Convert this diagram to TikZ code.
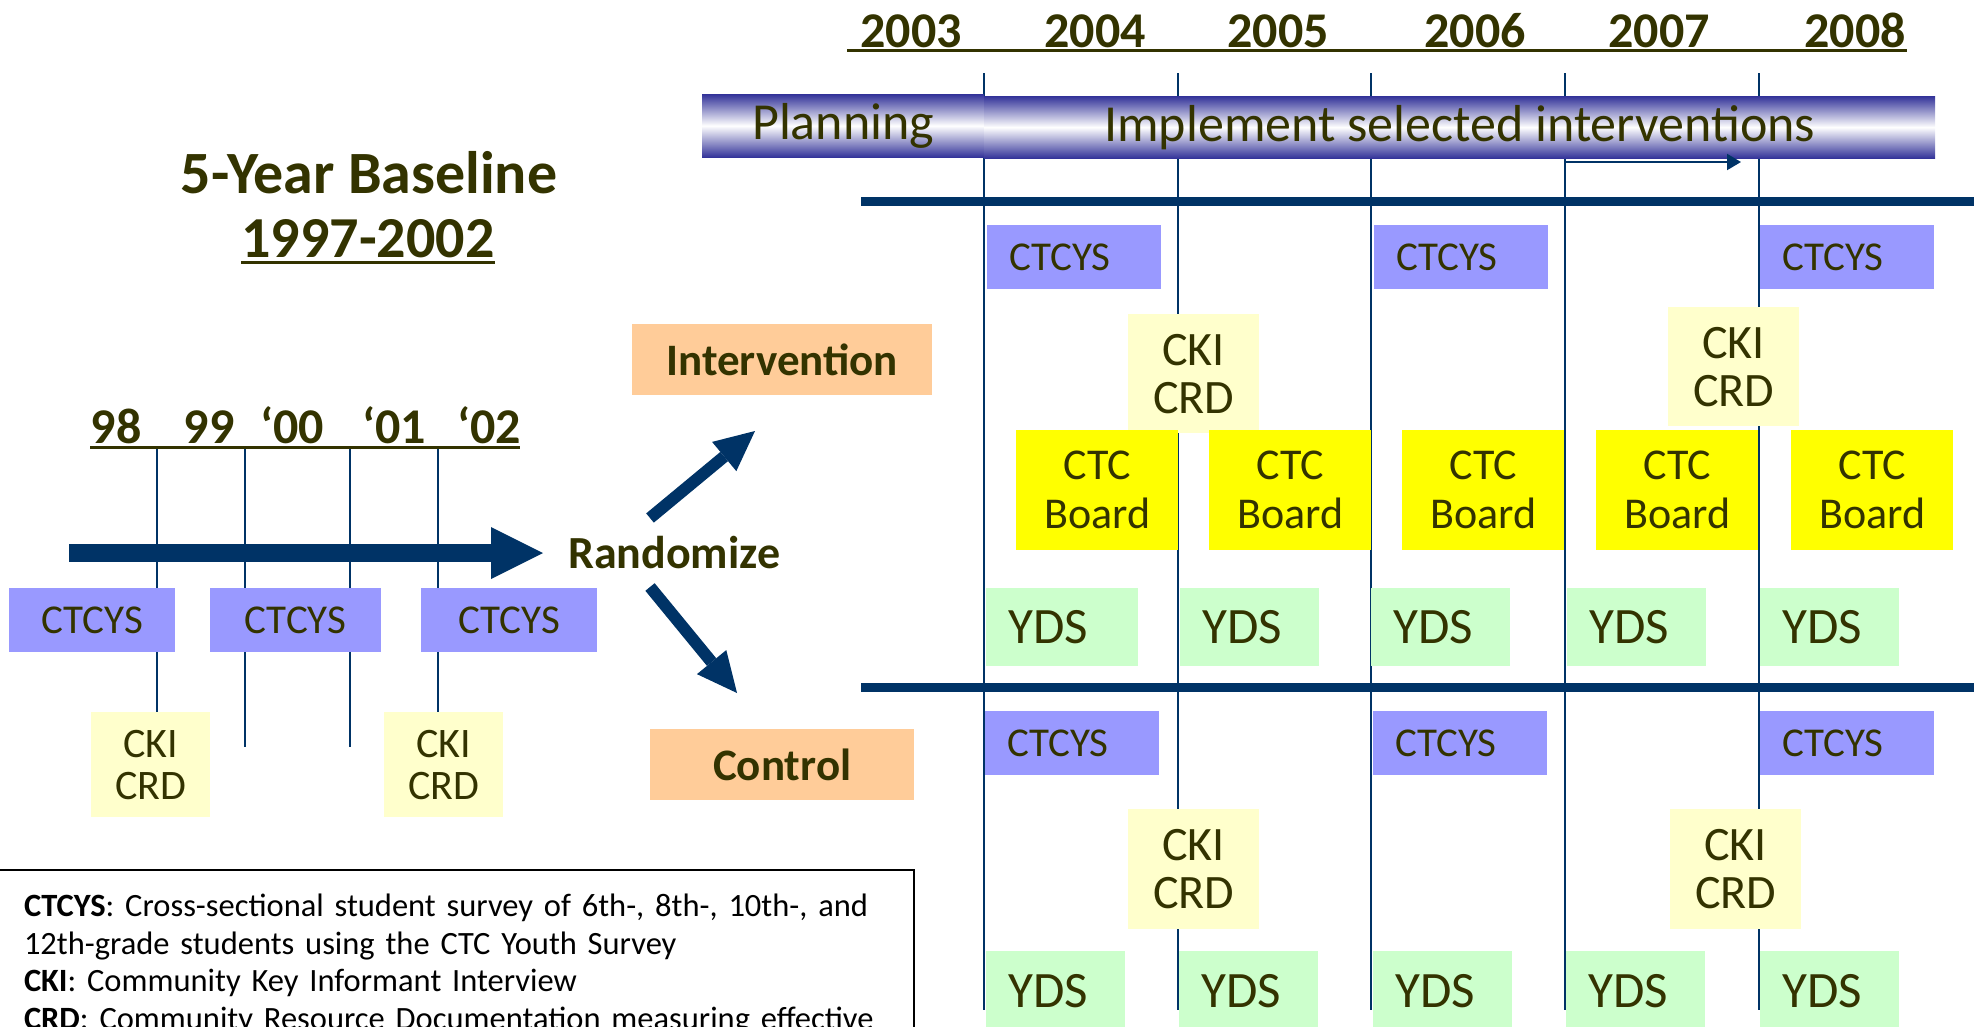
\documentclass[tikz,border=0pt]{standalone}
\usepackage{fontspec}
\setmainfont{Carlito}
\usetikzlibrary{arrows.meta,calc,positioning}
\definecolor{StudyOlive}{RGB}{51,51,0}
\definecolor{StudyNavy}{RGB}{0,51,102}
\definecolor{StudyBand}{RGB}{51,51,153}
\definecolor{SurveyBlue}{RGB}{153,153,255}
\definecolor{KeyCream}{RGB}{255,255,204}
\definecolor{BoardYellow}{RGB}{255,255,0}
\definecolor{YouthGreen}{RGB}{204,255,204}
\definecolor{ArmPeach}{RGB}{255,204,153}
\newcommand{\sz}[2]{\fontsize{#1}{#2}\selectfont}

\begin{document}
\begin{tikzpicture}[x=1pt,y=-1pt,
  cell/.style={anchor=north west,inner sep=0pt,text=StudyOlive},
  survey/.style={cell,fill=SurveyBlue,minimum height=64pt,font=\sz{41}{41}},
  surveypad/.style={survey,text width=130pt,inner xsep=22pt,align=left},
  keybox/.style={cell,fill=KeyCream,align=center},
  board/.style={cell,fill=BoardYellow,minimum width=162pt,minimum height=120pt,
    align=center,font=\sz{44}{49}},
  ydsbox/.style={cell,fill=YouthGreen,text width=95pt,inner xsep=22pt,align=left,
    font=\sz{51}{51}},
  arm/.style={cell,fill=ArmPeach,minimum height=71pt,font=\bfseries\sz{45}{45}},
  band/.style={cell,top color=StudyBand,bottom color=StudyBand,middle color=white,
    font=\sz{52}{52}},
  yearlabel/.style={anchor=base,inner sep=0pt,text=StudyOlive,font=\bfseries\sz{50}{50}},
  headtitle/.style={anchor=base,inner sep=0pt,text=StudyOlive,font=\bfseries\sz{60}{60}},
  yearrule/.style={StudyOlive,line width=3pt},
  tickline/.style={StudyNavy,line width=2.5pt},
  armrule/.style={StudyNavy,line width=9pt},
  bigarrow/.style={StudyNavy},
  legendbox/.style={anchor=north west,draw=black,line width=2pt,inner xsep=26pt,
    inner ysep=24pt,text width=864pt,align=left,font=\sz{32.5}{37.5}}]
\useasboundingbox (0,0) rectangle (1974,1026);

% timeline ticks, behind the boxes
\foreach \x in {984,1178,1371,1565,1759}
  \draw[tickline] (\x,73) -- (\x,1010);
\foreach \x/\y in {157/712,245/747,350/747,438/712}
  \draw[tickline,line width=2pt] (\x,447) -- (\x,\y);

% baseline heading
\node[headtitle] (basetitle) at (369,193) {5-Year Baseline};
\node[headtitle,font=\bfseries\sz{58}{58}] (baseyears) at (368,257) {1997-2002};
\draw[yearrule] ([yshift=-5pt]baseyears.base west) -- ([yshift=-5pt]baseyears.base east);

\foreach \lab/\x [count=\i] in {98/116,99/209,‘00/292,‘01/394,‘02/489}
  \node[yearlabel] (by\i) at (\x,443) {\lab};
\draw[yearrule] (90,447) -- (520,447);

% study years
\foreach \yr/\x in {2003/911,2004/1095,2005/1278,2006/1475,2007/1659,2008/1855}
  \node[yearlabel] (yr\yr) at (\x,47) {\yr};
\draw[yearrule] (847,50) -- (1907,50);

\node[band,minimum width=282pt,minimum height=63pt] (planning) at (702,94) {Planning};
\node[band,minimum width=951pt,minimum height=62pt] (implement) at (984,96)
  {Implement selected interventions};
\coordinate (runStart) at (1565,162);
\coordinate (runEnd) at (1741,162);
\draw[bigarrow,line width=2pt,-{Triangle[length=14pt,width=16pt]}] (runStart) -- (runEnd);

\draw[armrule] (861,201) -- (1974,201);
\draw[armrule] (861,687) -- (1974,687);

% baseline surveys
\foreach \x/\w [count=\i] in {9/166,210/171,421/176}
  \node[survey,minimum width=\w pt] (baseSurvey\i) at (\x,588) {CTCYS};
\foreach \x [count=\i] in {91,384}
  \node[keybox,minimum width=119pt,minimum height=105pt,font=\sz{42}{42}] (baseKey\i)
    at (\x,712) {CKI\\CRD};

% randomisation
\coordinate (shaftStart) at (69,553);
\coordinate (shaftEnd) at (543,553);
\draw[bigarrow,line width=18pt,-{Triangle[length=52pt,width=52pt,line width=0pt]}]
  (shaftStart) -- (shaftEnd);
\node[anchor=base west,inner sep=0pt,text=StudyOlive,font=\bfseries\sz{46}{46}]
  (randomize) at (568,568) {Randomize};
\coordinate (upTail) at (650,518);
\coordinate (upTip) at (755,431);
\coordinate (downTail) at (650,587);
\coordinate (downTip) at (737,693);
\draw[bigarrow,line width=12pt,-{Triangle[length=40pt,width=38pt,line width=0pt]}]
  (upTail) -- (upTip);
\draw[bigarrow,line width=12pt,-{Triangle[length=40pt,width=38pt,line width=0pt]}]
  (downTail) -- (downTip);
\node[arm,minimum width=300pt] (intervention) at (632,324) {Intervention};
\node[arm,minimum width=264pt] (control) at (650,729) {Control};

% intervention communities
\foreach \x [count=\i] in {987,1374,1760}
  \node[surveypad] (surveyI\i) at (\x,225) {CTCYS};
\foreach \x/\y [count=\i] in {1128/314,1668/307}
  \node[keybox,minimum width=131pt,minimum height=119pt,font=\sz{48}{48}] (keyI\i)
    at (\x,\y) {CKI\\CRD};
\foreach \x [count=\i] in {1016,1209,1402,1596,1791}
  \node[board] (boardI\i) at (\x,430) {CTC\\Board};
\node[ydsbox,text width=108pt,minimum height=78pt] (ydsI1) at (986,588) {YDS};
\foreach \x [count=\i from 2] in {1180,1371,1567,1760}
  \node[ydsbox,minimum height=78pt] (ydsI\i) at (\x,588) {YDS};

% control communities
\foreach \x [count=\i] in {985,1373,1760}
  \node[surveypad] (surveyC\i) at (\x,711) {CTCYS};
\foreach \x [count=\i] in {1128,1670}
  \node[keybox,minimum width=131pt,minimum height=120pt,font=\sz{48}{48}] (keyC\i)
    at (\x,809) {CKI\\CRD};
\foreach \x [count=\i] in {986,1179,1373,1566,1760}
  \node[ydsbox,minimum height=80pt] (ydsC\i) at (\x,951) {YDS};

% legend
\node[legendbox] (legend) at (-3,869)
  {\textbf{CTCYS}: Cross-sectional student survey of 6th-, 8th-, 10th-, and\\
   12th-grade students using the CTC Youth Survey\\
   \textbf{CKI}: Community Key Informant Interview\\
   \textbf{CRD}: Community Resource Documentation measuring effective};
\end{tikzpicture}
\end{document}
